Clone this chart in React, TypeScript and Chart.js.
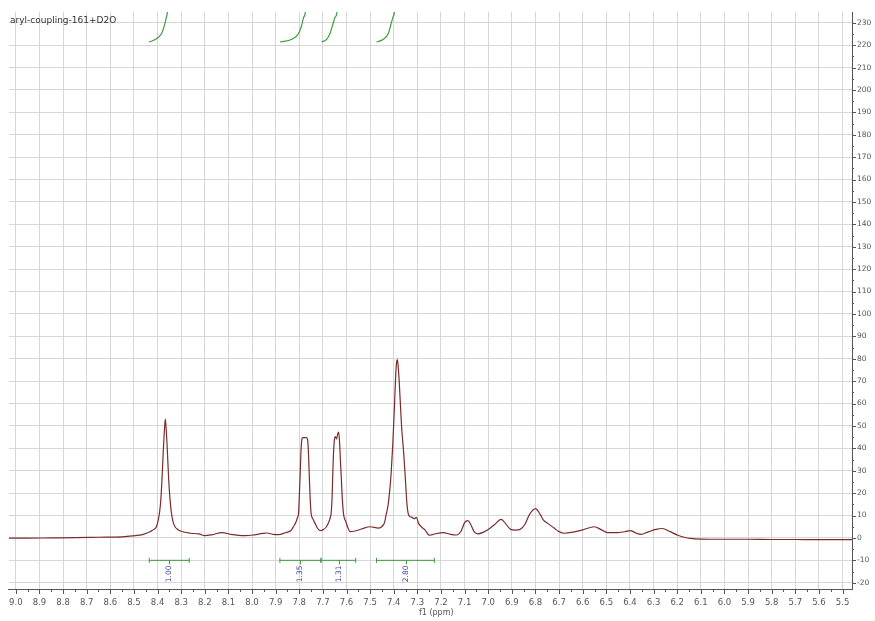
import { useEffect, useRef } from 'react';
import { Chart, registerables } from 'chart.js';

Chart.register(...registerables);

const TITLE = 'aryl-coupling-161+D2O';
const X_TITLE = 'f1 (ppm)';

const X_MIN = 5.46;
const X_MAX = 9.03;
const Y_MIN = -22.8;
const Y_MAX = 234.8;

// spectrum (ppm, intensity)
const specPpm = [
  9.03, 8.95, 8.85, 8.75, 8.65, 8.55, 8.506, 8.46, 8.43, 8.415, 8.405, 8.398, 8.392, 8.386, 8.381, 8.376,
  8.371, 8.367, 8.363, 8.358, 8.353, 8.347, 8.341, 8.335, 8.326, 8.315, 8.3, 8.26, 8.225, 8.2, 8.17, 8.127,
  8.09, 8.03, 7.99, 7.955, 7.937, 7.91, 7.888, 7.86, 7.835, 7.825, 7.813, 7.808, 7.803, 7.8, 7.796, 7.793,
  7.789, 7.785, 7.77, 7.765, 7.761, 7.758, 7.754, 7.75, 7.742, 7.733, 7.722, 7.712, 7.7, 7.685, 7.674, 7.669,
  7.665, 7.661, 7.658, 7.655, 7.651, 7.647, 7.642, 7.637, 7.633, 7.629, 7.626, 7.623, 7.618, 7.613, 7.608, 7.603,
  7.595, 7.585, 7.56, 7.536, 7.5, 7.465, 7.444, 7.438, 7.432, 7.425, 7.418, 7.411, 7.404, 7.397, 7.392, 7.388,
  7.385, 7.382, 7.377, 7.372, 7.367, 7.358, 7.35, 7.344, 7.339, 7.333, 7.322, 7.313, 7.304, 7.295, 7.268, 7.249,
  7.233, 7.19, 7.16, 7.135, 7.115, 7.1, 7.086, 7.075, 7.06, 7.044, 7.02, 7.0, 6.975, 6.945, 6.925, 6.905,
  6.885, 6.865, 6.845, 6.825, 6.8, 6.78, 6.765, 6.748, 6.72, 6.7, 6.678, 6.64, 6.6, 6.551, 6.52, 6.495,
  6.45, 6.42, 6.4, 6.375, 6.354, 6.32, 6.29, 6.263, 6.23, 6.2, 6.17, 6.144, 6.1, 6.0, 5.9, 5.8,
  5.7, 5.6, 5.46,
];
const specInt = [
  -0.1, -0.1, 0.0, 0.1, 0.3, 0.5, 0.9, 1.6, 2.9, 3.8, 5.0, 7.5, 11, 17, 26.5, 38,
  48, 53, 48, 38, 26.5, 17, 11, 7.5, 5.0, 3.8, 3.0, 2.1, 1.8, 1.0, 1.4, 2.4,
  1.6, 1.0, 1.4, 2.0, 2.2, 1.6, 1.5, 2.3, 3.3, 5.0, 7.3, 9.0, 11, 18, 29, 38,
  44, 44.8, 44.8, 44, 38, 29, 18, 11, 8.5, 6.5, 4.2, 3.3, 3.6, 5.0, 7.3, 9.0,
  11, 18, 29, 38, 44, 45.2, 44.2, 46.5, 47.3, 42, 35, 29, 18, 11, 8.5, 7.3,
  4.8, 2.8, 3.2, 4.0, 5.0, 4.4, 5.8, 7.3, 10.5, 14, 20, 29, 42, 58.6, 72, 78.5,
  79.6, 77.5, 70, 60, 50, 38, 25, 15, 11, 9.6, 9.2, 8.6, 9.2, 6.5, 3.6, 1.2,
  1.6, 2.4, 1.6, 1.3, 3.0, 6.8, 7.7, 6.2, 2.8, 1.8, 2.6, 3.8, 5.8, 8.3, 6.2, 3.8,
  3.5, 3.8, 6.0, 10.5, 13.1, 10.5, 7.8, 6.5, 4.3, 2.8, 2.1, 2.6, 3.6, 5.0, 3.6, 2.4,
  2.4, 2.8, 3.3, 2.2, 1.6, 2.8, 3.8, 4.2, 2.8, 1.3, 0.3, -0.2, -0.5, -0.6, -0.6, -0.7,
  -0.7, -0.8, -0.8,
];

// integration curves at the top (ppm, value)
const intCurvePpm = [
  [8.436, 8.408, 8.383, 8.37, 8.363, 8.359, 8.356],
  [7.881, 7.831, 7.803, 7.789, 7.782, 7.775, 7.772],
  [7.705, 7.684, 7.67, 7.658, 7.649, 7.641, 7.638],
  [7.473, 7.444, 7.423, 7.412, 7.404, 7.398, 7.395],
];
const intCurveVal = [221.4, 222.6, 225.2, 229.2, 232.3, 234.2, 238];

// integration bars at the bottom
const intBarRanges = [
  [8.435, 8.266],
  [7.882, 7.708],
  [7.708, 7.561],
  [7.473, 7.228],
];
const intBarLevel = -10;
const intLabelPos = [8.351, 7.797, 7.633, 7.35];
const intLabels = ['1.00', '1.35', '1.31', '2.80'];

const SPEC_COLOR = '#7a2c2c';
const INT_COLOR = '#3f9a3f';
const GRID_COLOR = '#d6d6d6';
const AXIS_COLOR = '#555555';
const TEXT_COLOR = '#555555';
const FONT = 'DejaVu Sans';

const decorPlugin = {
  id: 'decor',
  afterDatasetsDraw(chart: any) {
    const ctx = chart.ctx;
    const xs = chart.scales.x;
    const ys = chart.scales.y;
    const area = chart.chartArea;
    ctx.save();
    ctx.strokeStyle = AXIS_COLOR;
    ctx.lineWidth = 1;
    for (let i = 0; i <= 70; i++) {
      const v = 5.5 + i * 0.05;
      const px = Math.round(xs.getPixelForValue(v)) + 0.5;
      const len = i % 2 === 0 ? 5 : 3;
      ctx.beginPath();
      ctx.moveTo(px, area.bottom);
      ctx.lineTo(px, area.bottom + len);
      ctx.stroke();
    }
    for (let v = -20; v <= 230; v += 5) {
      const py = Math.round(ys.getPixelForValue(v)) + 0.5;
      const len = v % 10 === 0 ? 4 : 2;
      ctx.beginPath();
      ctx.moveTo(area.right, py);
      ctx.lineTo(area.right + len, py);
      ctx.stroke();
    }
    const yBar = ys.getPixelForValue(intBarLevel);
    ctx.fillStyle = '#3b3ba0';
    ctx.font = `7.5px "${FONT}"`;
    intLabelPos.forEach((p, i) => {
      const px = Math.round(xs.getPixelForValue(p)) + 0.5;
      ctx.strokeStyle = INT_COLOR;
      ctx.beginPath();
      ctx.moveTo(px, yBar);
      ctx.lineTo(px, yBar + 4);
      ctx.stroke();
      ctx.save();
      ctx.translate(px, yBar + 13.5);
      ctx.rotate(-Math.PI / 2);
      ctx.textAlign = 'center';
      ctx.textBaseline = 'middle';
      ctx.fillText(intLabels[i], 0, 0);
      ctx.restore();
    });
    ctx.fillStyle = '#333333';
    ctx.font = `9px "${FONT}"`;
    ctx.textAlign = 'left';
    ctx.textBaseline = 'middle';
    ctx.fillText(TITLE, 10, 21);
    ctx.fillStyle = TEXT_COLOR;
    ctx.font = `8px "${FONT}"`;
    ctx.textAlign = 'center';
    ctx.fillText(X_TITLE, xs.getPixelForValue(7.22), 613);
    ctx.restore();
  },
};

export default function App() {
  const ref = useRef<HTMLCanvasElement | null>(null);

  useEffect(() => {
    if (!ref.current) return;
    const datasets: any[] = [];
    datasets.push({
      data: specPpm.map((x, i) => ({ x, y: specInt[i] })),
      borderColor: SPEC_COLOR,
      borderWidth: 1.2,
      pointRadius: 0,
      cubicInterpolationMode: 'monotone',
      fill: false,
    });
    intCurvePpm.forEach((arr) => {
      datasets.push({
        data: arr.map((x, i) => ({ x, y: intCurveVal[i] })),
        borderColor: INT_COLOR,
        borderWidth: 1.2,
        pointRadius: 0,
        cubicInterpolationMode: 'monotone',
        fill: false,
      });
    });
    intBarRanges.forEach((r) => {
      datasets.push({
        data: r.map((x) => ({ x, y: intBarLevel })),
        borderColor: INT_COLOR,
        backgroundColor: INT_COLOR,
        borderWidth: 1,
        pointStyle: 'line',
        rotation: 90,
        pointRadius: 2.5,
        pointBorderColor: INT_COLOR,
        pointBorderWidth: 1,
        fill: false,
      });
    });

    const chart = new Chart(ref.current, {
      type: 'line',
      data: { datasets },
      options: {
        responsive: false,
        animation: false,
        devicePixelRatio: 1,
        layout: { padding: { left: 6, top: 12, right: 0, bottom: 0 } },
        plugins: { legend: { display: false }, tooltip: { enabled: false } },
        scales: {
          x: {
            type: 'linear',
            reverse: true,
            min: X_MIN,
            max: X_MAX,
            afterFit: (s: any) => { s.height = 32; },
            border: { display: true, color: AXIS_COLOR, width: 1 },
            grid: { color: GRID_COLOR, drawTicks: false, lineWidth: 1 },
            ticks: {
              stepSize: 0.1,
              includeBounds: false,
              autoSkip: false,
              maxRotation: 0,
              padding: 9,
              color: TEXT_COLOR,
              font: { family: FONT, size: 8.5 },
              callback: (v: any) => Number(v).toFixed(1),
            },
          },
          y: {
            type: 'linear',
            position: 'right',
            min: Y_MIN,
            max: Y_MAX,
            afterFit: (s: any) => { s.width = 23; },
            border: { display: true, color: AXIS_COLOR, width: 1 },
            grid: { color: GRID_COLOR, drawTicks: false, lineWidth: 1 },
            ticks: {
              stepSize: 10,
              includeBounds: false,
              padding: 5,
              color: TEXT_COLOR,
              font: { family: FONT, size: 7.5 },
              callback: (v: any) => String(Math.round(Number(v))),
            },
          },
        },
      },
      plugins: [decorPlugin],
    } as any);
    return () => chart.destroy();
  }, []);

  return (
    <div style={{ position: 'fixed', left: 0, top: 0, width: 875, height: 621, background: '#ffffff' }}>
      <canvas ref={ref} width={875} height={621} style={{ display: 'block' }} />
    </div>
  );
}
